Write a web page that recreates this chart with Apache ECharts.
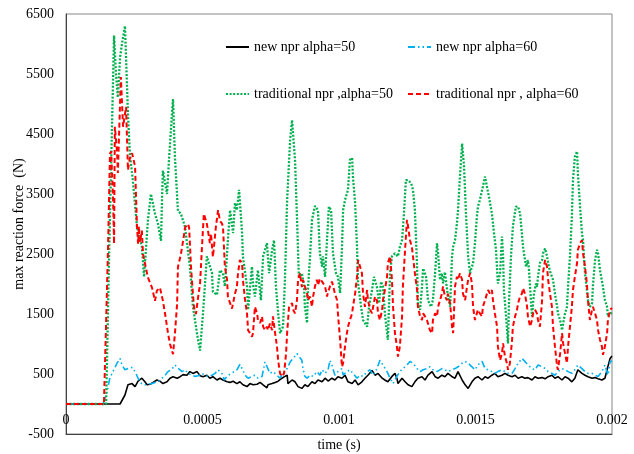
<!DOCTYPE html>
<html>
<head>
<meta charset="utf-8">
<script src="https://cdn.jsdelivr.net/npm/echarts@6/dist/echarts.min.js"></script>
<style>
html,body{margin:0;padding:0;background:#fff;}
#c{width:634px;height:454px;}
</style>
</head>
<body>
<div id="c"></div>
<script>
// time in microseconds, value in N
const seriesNames = ["new npr alpha=50", "new npr alpha=60", "traditional npr ,alpha=50", "traditional npr , alpha=60"];
const xTicks = [0, 500, 1000, 1500, 2000];
const yTicks = [-500, 500, 1500, 2500, 3500, 4500, 5500, 6500];

const new50 = [[0,0],[198,0],[216,150],[227,320],[242,340],[253,290],[264,380],[278,430],[289,370],[297,320],[308,330],[319,360],[333,400],[344,380],[355,340],[370,370],[381,430],[392,455],[407,430],[418,455],[429,490],[443,480],[454,540],[465,510],[480,540],[491,470],[502,455],[516,480],[527,430],[538,455],[553,400],[564,430],[575,400],[590,370],[601,360],[612,380],[626,340],[637,370],[648,320],[663,290],[674,340],[685,320],[700,330],[711,360],[722,320],[736,270],[740,320],[755,340],[766,360],[777,380],[791,430],[802,460],[810,480],[813,340],[828,400],[839,370],[850,290],[864,260],[875,320],[886,290],[901,370],[912,340],[923,400],[938,370],[949,430],[960,383],[974,430],[985,400],[996,455],[1011,430],[1022,480],[1033,370],[1048,340],[1059,400],[1070,320],[1084,370],[1095,430],[1106,480],[1121,560],[1132,480],[1143,510],[1158,430],[1168,400],[1179,370],[1194,460],[1205,510],[1212,430],[1216,340],[1231,430],[1242,370],[1253,320],[1267,290],[1278,370],[1289,430],[1304,455],[1315,400],[1326,480],[1341,540],[1352,455],[1363,430],[1377,480],[1388,455],[1399,510],[1414,455],[1425,430],[1436,540],[1451,400],[1462,320],[1473,260],[1487,370],[1498,430],[1509,455],[1524,400],[1535,455],[1546,430],[1560,480],[1571,510],[1582,455],[1597,480],[1608,510],[1619,480],[1634,455],[1645,480],[1656,430],[1670,455],[1681,430],[1692,440],[1707,400],[1718,455],[1729,430],[1744,440],[1755,420],[1766,455],[1780,480],[1791,430],[1802,455],[1817,400],[1828,455],[1839,430],[1853,370],[1864,430],[1875,570],[1890,510],[1901,480],[1912,455],[1927,430],[1938,440],[1949,420],[1963,400],[1974,430],[1982,570],[1985,540],[1993,760],[2000,800]];

const new60 = [[0,0],[136,0],[150,200],[161,440],[172,540],[187,680],[198,760],[205,650],[216,570],[227,590],[242,610],[253,540],[264,430],[278,330],[289,320],[300,330],[315,340],[326,360],[337,370],[352,430],[363,480],[374,540],[388,580],[399,650],[410,600],[425,540],[436,570],[447,510],[462,480],[473,460],[484,470],[498,510],[509,480],[520,460],[535,480],[546,510],[557,570],[575,490],[579,400],[590,460],[601,500],[612,530],[626,570],[637,660],[645,590],[656,480],[667,430],[681,460],[692,480],[703,430],[718,460],[729,700],[736,730],[747,510],[758,540],[773,480],[784,430],[795,510],[810,590],[821,700],[832,760],[846,840],[850,870],[864,730],[868,590],[875,460],[883,430],[894,480],[905,460],[919,540],[930,480],[938,570],[949,510],[960,570],[967,730],[974,650],[985,480],[996,540],[1011,590],[1015,480],[1029,540],[1040,570],[1051,510],[1066,430],[1077,480],[1088,460],[1103,540],[1114,570],[1125,480],[1139,590],[1150,730],[1161,650],[1176,540],[1187,430],[1198,340],[1212,460],[1223,540],[1234,590],[1249,650],[1260,710],[1271,680],[1286,590],[1297,540],[1308,570],[1322,590],[1333,620],[1344,570],[1359,540],[1363,510],[1377,590],[1388,570],[1399,540],[1414,570],[1425,590],[1436,620],[1451,680],[1462,710],[1473,680],[1487,620],[1498,570],[1509,650],[1524,710],[1535,590],[1546,570],[1560,540],[1571,510],[1582,540],[1597,570],[1608,540],[1619,510],[1634,510],[1645,590],[1656,680],[1670,760],[1681,710],[1692,650],[1707,590],[1718,570],[1729,650],[1744,620],[1755,590],[1766,540],[1780,510],[1791,480],[1802,540],[1817,590],[1828,570],[1839,540],[1853,510],[1864,570],[1875,650],[1890,590],[1901,540],[1912,510],[1927,510],[1938,480],[1949,460],[1963,540],[1974,650],[1985,480],[1993,700],[2000,720]];

const trad50 = [[0,0],[147,0],[158,2500],[176,6140],[183,5500],[190,5110],[198,5780],[205,6000],[216,6300],[227,4830],[234,4170],[245,3720],[260,2950],[278,2620],[286,2120],[300,3060],[311,3500],[326,3170],[337,3000],[348,2720],[352,3450],[355,3890],[370,3500],[377,4050],[388,4830],[392,5080],[399,4120],[410,3220],[421,3170],[436,2950],[454,2280],[465,1620],[480,1170],[491,890],[502,1520],[516,2460],[520,2400],[535,2180],[538,1870],[553,1820],[564,2230],[575,2180],[582,1960],[593,2730],[601,3230],[612,2850],[619,3350],[626,3230],[634,3570],[645,2850],[648,2460],[663,1960],[667,1570],[681,2290],[685,2000],[692,1790],[703,2230],[714,1730],[722,2460],[736,2680],[744,2180],[755,2570],[762,2730],[769,1960],[777,1520],[784,1180],[795,1290],[802,2070],[810,3400],[821,4400],[828,4730],[839,4060],[846,3120],[853,2120],[864,2180],[872,1960],[875,1620],[883,1350],[886,1900],[894,2460],[901,3070],[912,3300],[923,3230],[930,2510],[938,2290],[941,2460],[949,2120],[956,2730],[963,3290],[971,3230],[978,2510],[989,2180],[996,2120],[1004,1850],[1011,2620],[1015,3230],[1022,3400],[1033,3570],[1040,4070],[1048,4100],[1051,3790],[1059,3350],[1066,2620],[1070,2010],[1081,1620],[1088,1400],[1103,1290],[1110,1620],[1121,1900],[1128,2120],[1139,1950],[1147,1680],[1154,2040],[1161,1960],[1168,1510],[1179,1070],[1183,1620],[1187,2180],[1194,2460],[1205,2510],[1216,2460],[1223,2620],[1231,2730],[1238,3180],[1245,3730],[1253,3730],[1264,3680],[1271,3570],[1278,3230],[1286,2290],[1289,1680],[1297,1570],[1304,1950],[1308,2260],[1319,2120],[1326,1730],[1337,1620],[1344,1730],[1352,2180],[1359,2680],[1363,2510],[1370,2070],[1377,2180],[1381,2010],[1388,2200],[1396,1900],[1399,1790],[1407,1620],[1414,2460],[1418,2620],[1425,2730],[1432,3010],[1436,3230],[1443,3790],[1451,4340],[1454,4370],[1458,3960],[1465,3180],[1473,2460],[1480,2180],[1487,2290],[1491,2340],[1498,2680],[1505,3120],[1509,3290],[1516,3400],[1527,3620],[1535,3790],[1542,3620],[1549,3460],[1560,3180],[1568,2840],[1575,2570],[1582,2010],[1590,2180],[1597,2790],[1601,2460],[1604,1900],[1612,1460],[1619,1010],[1623,1730],[1630,2460],[1637,2960],[1648,3290],[1656,3290],[1663,3180],[1670,2840],[1674,2620],[1685,2290],[1692,2400],[1696,2230],[1703,1730],[1707,1460],[1714,1840],[1722,2010],[1725,1950],[1729,2120],[1736,2350],[1744,2400],[1747,2510],[1755,2590],[1762,2460],[1766,2350],[1773,2210],[1780,2180],[1784,2070],[1791,1840],[1799,1620],[1802,1510],[1810,1400],[1817,1230],[1821,1340],[1828,1510],[1835,1620],[1839,1960],[1846,2460],[1853,3120],[1857,3730],[1864,4120],[1872,4210],[1875,3850],[1883,3290],[1890,2840],[1894,2730],[1901,2180],[1908,1900],[1912,1730],[1919,1620],[1927,1680],[1930,1960],[1938,2400],[1945,2570],[1949,2510],[1956,2230],[1963,2210],[1967,1950],[1974,1730],[1982,1620],[1985,1460],[1996,1510],[2000,1550]];

const trad60 = [[0,0],[139,0],[154,2600],[161,4170],[165,4210],[172,3500],[176,2670],[179,4620],[187,4200],[190,3850],[201,5450],[209,4620],[220,4950],[227,3900],[234,4100],[242,4180],[253,3960],[260,2960],[264,2670],[267,2960],[271,2700],[278,2890],[282,2500],[289,2500],[300,2110],[315,1940],[326,1720],[333,1890],[344,1940],[355,1720],[363,1500],[374,1170],[381,1000],[388,890],[392,830],[399,1170],[407,1670],[410,2280],[421,2500],[429,2720],[436,2940],[447,3000],[451,2940],[458,2280],[465,1830],[469,1610],[476,1500],[484,1780],[491,2000],[498,2610],[505,3170],[509,3180],[516,3000],[520,2890],[527,2680],[531,2840],[538,2450],[542,2620],[549,2950],[557,3230],[564,3050],[571,3010],[575,2960],[582,2290],[590,2070],[593,1790],[601,1680],[608,1590],[612,1620],[619,1840],[626,1950],[630,2180],[637,2400],[645,2350],[648,2070],[656,1730],[663,1510],[667,1230],[674,1180],[681,1120],[685,1180],[692,1620],[700,1510],[703,1400],[711,1350],[718,1460],[722,1290],[729,1230],[736,1290],[740,1230],[747,1340],[755,1230],[758,1460],[766,1180],[773,950],[777,730],[784,510],[791,460],[799,510],[806,840],[810,1180],[817,1620],[828,1680],[832,1570],[839,1510],[846,1730],[850,2070],[857,2180],[864,1950],[868,2070],[875,1960],[883,1840],[886,1730],[894,1790],[901,1620],[905,1790],[912,1960],[919,2070],[923,1980],[930,2090],[938,2040],[941,2070],[949,1960],[956,1790],[960,1870],[967,1960],[974,2040],[978,1980],[985,1840],[993,1730],[996,1510],[1004,1070],[1011,620],[1015,680],[1022,960],[1029,1180],[1033,1290],[1040,1400],[1048,1510],[1051,1620],[1059,1840],[1066,2120],[1070,2400],[1077,2430],[1084,2180],[1088,1840],[1095,1620],[1103,1900],[1106,1730],[1114,1570],[1121,1510],[1125,1620],[1132,1790],[1139,1730],[1143,1510],[1150,1400],[1158,1570],[1161,1730],[1168,1900],[1176,2120],[1179,2350],[1187,2460],[1194,2070],[1198,1620],[1205,1180],[1212,960],[1216,790],[1223,960],[1231,1460],[1234,1960],[1242,2570],[1249,3070],[1253,2960],[1260,2730],[1267,2620],[1271,2460],[1278,2180],[1286,1900],[1289,1620],[1297,1460],[1304,1400],[1308,1510],[1315,1460],[1322,1400],[1326,1340],[1333,1230],[1341,1180],[1344,1400],[1352,1510],[1359,1460],[1363,1620],[1370,1730],[1377,1840],[1381,1960],[1388,1790],[1396,1730],[1399,1840],[1407,1680],[1414,1290],[1418,1180],[1421,1510],[1425,1960],[1432,2120],[1436,2070],[1443,2180],[1451,2070],[1454,1840],[1462,1730],[1469,1960],[1473,2070],[1480,2180],[1487,2010],[1491,1620],[1498,1400],[1505,1510],[1509,1570],[1516,1510],[1524,1460],[1527,1620],[1535,1730],[1542,1840],[1546,1900],[1553,1840],[1560,1900],[1564,1730],[1571,1510],[1579,1290],[1582,960],[1590,730],[1597,840],[1601,1010],[1608,790],[1615,680],[1619,570],[1626,680],[1634,1070],[1637,1290],[1645,1460],[1652,1570],[1656,1680],[1663,1790],[1670,1840],[1674,1930],[1681,1840],[1689,1620],[1692,1460],[1700,1290],[1707,1400],[1711,1510],[1718,1570],[1725,1510],[1729,1400],[1736,1290],[1744,1730],[1747,2180],[1755,2400],[1762,2290],[1766,2070],[1773,1840],[1780,1620],[1784,1290],[1791,960],[1799,620],[1802,570],[1810,840],[1817,1180],[1821,1010],[1828,840],[1835,680],[1839,960],[1846,1290],[1853,1620],[1857,1900],[1864,2120],[1872,2350],[1875,2570],[1883,2680],[1890,2730],[1894,2510],[1901,2290],[1908,2010],[1912,1730],[1919,1400],[1927,1570],[1930,1620],[1938,1510],[1945,1400],[1949,1230],[1956,1070],[1963,960],[1967,820],[1974,960],[1982,1180],[1985,1400],[1993,1570],[2000,1600]];

const FONT = "'Liberation Serif', 'Times New Roman', serif";
const GRID = {left: 66, top: 14, right: 22, bottom: 20};
const chart = echarts.init(document.getElementById('c'), null, {renderer: 'canvas'});
const plotH = 454 - GRID.top - GRID.bottom;
const yMin = yTicks[0], yMax = yTicks[yTicks.length - 1];
// distance from grid top to the value 0 (where the time labels sit)
const zeroOffset = plotH * (yMax - 0) / (yMax - yMin);

function lineSeries(name, data, color, width, dash) {
  return {
    name: name, type: 'line', data: data, xAxisIndex: 0, yAxisIndex: 0,
    symbol: 'none', showSymbol: false, smooth: false,
    lineStyle: {color: color, width: width, type: dash},
    itemStyle: {color: color},
    emphasis: {disabled: true}
  };
}
function legendAt(name, left, top) {
  return {
    data: [name], left: left, top: top, padding: 0, itemWidth: 23, itemHeight: 14, itemGap: 5,
    selectedMode: false,
    itemStyle: {color: 'rgba(0,0,0,0)', borderColor: 'rgba(0,0,0,0)', borderWidth: 0, opacity: 0},
    textStyle: {fontFamily: FONT, fontSize: 14, color: '#000'}
  };
}

const option = {
  animation: false,
  backgroundColor: '#fff',
  textStyle: {fontFamily: FONT},
  grid: {left: GRID.left, top: GRID.top, right: GRID.right, bottom: GRID.bottom, outerBoundsMode: 'none', containLabel: false,
         show: true, borderColor: '#868686', borderWidth: 1, backgroundColor: 'transparent'},
  legend: [
    legendAt(seriesNames[0], 225, 40),
    legendAt(seriesNames[1], 407, 40),
    legendAt(seriesNames[2], 225, 87),
    legendAt(seriesNames[3], 407, 87)
  ],
  xAxis: [
    {
      type: 'value', position: 'bottom', min: xTicks[0], max: xTicks[xTicks.length-1], interval: xTicks[1]-xTicks[0],
      axisLine: {show: true, onZero: false, lineStyle: {color: '#404040', width: 1}},
      axisTick: {show: false}, axisLabel: {show: false}, splitLine: {show: false},
      name: 'time (s)', nameLocation: 'middle', nameGap: 4, nameMoveOverlap: false,
      nameTextStyle: {fontFamily: FONT, fontSize: 14, color: '#000'}
    },
    {
      type: 'value', position: 'top', offset: -zeroOffset,
      min: xTicks[0], max: xTicks[xTicks.length-1], interval: xTicks[1]-xTicks[0],
      axisLine: {show: false, onZero: false},
      axisTick: {show: false}, splitLine: {show: false},
      axisLabel: {show: true, inside: true, margin: 9, fontFamily: FONT, fontSize: 14, color: '#000',
        showMinLabel: true, showMaxLabel: true,
        formatter: function (v) { return String(+(v / 1e6).toFixed(6)); }}
    }
  ],
  yAxis: {
    type: 'value', min: yMin, max: yMax, interval: yTicks[1]-yTicks[0],
    axisLine: {show: true, onZero: false, lineStyle: {color: '#404040', width: 1}},
    axisTick: {show: false}, splitLine: {show: false},
    axisLabel: {margin: 12, fontFamily: FONT, fontSize: 14, color: '#000',
      formatter: function (v) { return String(v); }},
    name: 'max reaction force  (N)', nameLocation: 'middle', nameRotate: 90, nameGap: 40, nameMoveOverlap: false,
    nameTextStyle: {fontFamily: FONT, fontSize: 14, color: '#000'}
  },
  series: [
    lineSeries(seriesNames[0], new50, '#000000', 1.6, 'solid'),
    lineSeries(seriesNames[1], new60, '#00B0F0', 1.6, [7, 3, 1.5, 3, 1.5, 3]),
    lineSeries(seriesNames[2], trad50, '#00B050', 2.3, [2, 1.6]),
    lineSeries(seriesNames[3], trad60, '#FF0000', 2, [5, 3])
  ]
};
chart.setOption(option);
</script>
</body>
</html>
